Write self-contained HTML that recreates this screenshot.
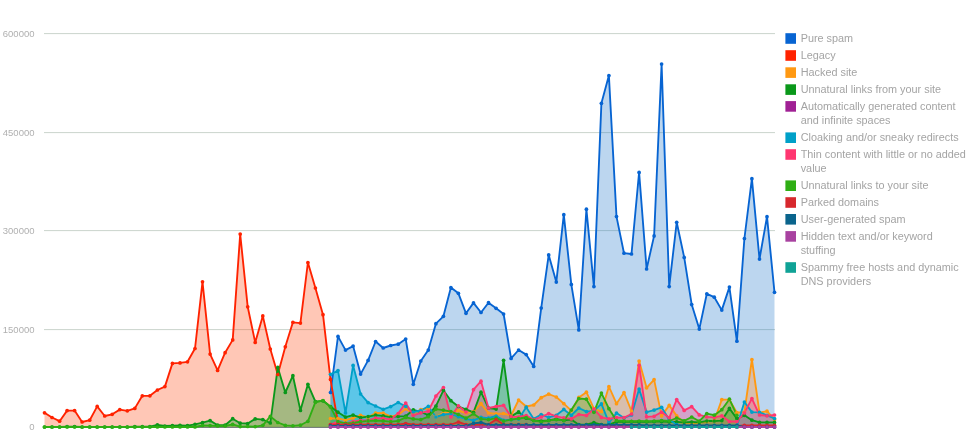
<!DOCTYPE html>
<html lang="en">
<head>
<meta charset="utf-8">
<title>Webspam manual actions chart</title>
<style>
html,body{margin:0;padding:0;background:#fff;}
body{width:978px;height:445px;overflow:hidden;font-family:"Liberation Sans",sans-serif;}
svg{display:block;}
.axis text{font-family:"Liberation Sans",sans-serif;font-size:9.5px;fill:#b0b0b0;}
.legend text{font-family:"Liberation Sans",sans-serif;font-size:10.85px;fill:#a4a4a4;}
</style>
</head>
<body>
<svg role="img" aria-label="Manual actions by type over time" width="978" height="445" viewBox="0 0 978 445">
<rect width="978" height="445" fill="#ffffff"/>
<g class="grid"><rect x="44" y="33.1" width="731" height="1" fill="#cad4cd"/><rect x="44" y="132.1" width="731" height="1" fill="#cad4cd"/><rect x="44" y="230.1" width="731" height="1" fill="#cad4cd"/><rect x="44" y="329.1" width="731" height="1" fill="#cad4cd"/></g>
<g class="axis"><text x="34.5" y="36.9" text-anchor="end">600000</text><text x="34.5" y="135.9" text-anchor="end">450000</text><text x="34.5" y="233.9" text-anchor="end">300000</text><text x="34.5" y="332.9" text-anchor="end">150000</text><text x="34.5" y="430.4" text-anchor="end">0</text></g>
<g class="series">
<g class="areas"><path d="M330.5,427 L330.5,392.5 L338,336.4 L345.5,350.1 L353.1,346.1 L360.6,374.1 L368.1,360.4 L375.6,341.5 L383.2,348 L390.7,345.5 L398.2,344.2 L405.7,339 L413.3,384.3 L420.8,361 L428.3,350.1 L435.9,323.7 L443.4,316.3 L450.9,287.6 L458.4,293.3 L466,313.3 L473.5,302.9 L481,312.5 L488.5,302.7 L496.1,308.3 L503.6,314 L511.1,358.4 L518.6,350 L526.2,354.6 L533.7,366.5 L541.2,308.1 L548.7,254.9 L556.3,282.1 L563.8,214.7 L571.3,284.4 L578.8,329.9 L586.4,209.2 L593.9,286.6 L601.4,103.3 L608.9,75.6 L616.5,216.6 L624,253.2 L631.5,254 L639.1,172.4 L646.6,269 L654.1,235.9 L661.6,64 L669.2,286.6 L676.7,222.3 L684.2,257.4 L691.7,304.6 L699.3,329.1 L706.8,293.8 L714.3,297.2 L721.8,310.1 L729.4,287.1 L736.9,341.2 L744.4,238.5 L751.9,178.7 L759.5,259.1 L767,216.7 L774.5,292.3 L774.5,427Z" fill="#2076ca" fill-opacity="0.3"/>
<path d="M44.5,427 L44.5,412.8 L52,417.5 L59.6,421.2 L67.1,410.6 L74.6,410.6 L82.1,422 L89.7,420.2 L97.2,406.4 L104.7,416 L112.2,414.3 L119.8,409.6 L127.3,410.8 L134.8,408.4 L142.3,395.8 L149.9,395.8 L157.4,390 L164.9,386.6 L172.4,363.4 L180,362.9 L187.5,361.8 L195,348.5 L202.5,281.8 L210.1,354.1 L217.6,370.4 L225.1,352.7 L232.7,339.9 L240.2,234.1 L247.7,306.8 L255.2,342.4 L262.8,315.9 L270.3,349 L277.8,374.5 L285.3,346.8 L292.9,322.3 L300.4,323.1 L307.9,262.5 L315.4,288 L323,314.7 L330.5,379.4 L338,423 L338,427Z" fill="#ff440c" fill-opacity="0.3"/>
<path d="M330.5,427 L330.5,418.5 L338,418.5 L345.5,420.2 L353.1,418 L360.6,415.3 L368.1,417.4 L375.6,413 L383.2,413.1 L390.7,416.7 L398.2,415 L405.7,408.8 L413.3,414 L420.8,409.5 L428.3,408.5 L435.9,416.8 L443.4,413 L450.9,412.3 L458.4,410.5 L466,413 L473.5,411.6 L481,403.6 L488.5,413 L496.1,413.8 L503.6,413.5 L511.1,415.5 L518.6,400 L526.2,406.5 L533.7,405 L541.2,397.7 L548.7,394.1 L556.3,397 L563.8,403.6 L571.3,410.6 L578.8,397.4 L586.4,392.2 L593.9,408.7 L601.4,411.6 L608.9,386.5 L616.5,403.7 L624,392.5 L631.5,411.1 L639.1,361.1 L646.6,387.8 L654.1,379.6 L661.6,415.9 L669.2,405.4 L676.7,415.9 L684.2,422.6 L691.7,423.3 L699.3,422.6 L706.8,421.5 L714.3,420.7 L721.8,399.6 L729.4,399.6 L736.9,412.7 L744.4,412 L751.9,359.5 L759.5,412.7 L767,411.2 L774.5,419.6 L774.5,427Z" fill="#ff9a4c" fill-opacity="0.4"/>
<path d="M44.5,427 L44.5,427 L52,427 L59.6,427 L67.1,426.6 L74.6,426.6 L82.1,427 L89.7,427 L97.2,427 L104.7,427 L112.2,427 L119.8,427 L127.3,427 L134.8,426.7 L142.3,426.7 L149.9,426.7 L157.4,424.8 L164.9,426 L172.4,425.7 L180,425.3 L187.5,425.6 L195,424.3 L202.5,422.7 L210.1,420.6 L217.6,425.2 L225.1,425.2 L232.7,418.7 L240.2,423.2 L247.7,423.5 L255.2,418.9 L262.8,419.6 L270.3,423 L277.8,367.4 L285.3,392.5 L292.9,375.7 L300.4,410.4 L307.9,384.3 L315.4,401.7 L323,400.8 L330.5,406.5 L338,412.2 L345.5,417.1 L353.1,415.1 L360.6,417.6 L368.1,416.6 L375.6,415.1 L383.2,415.9 L390.7,417.1 L398.2,416.4 L405.7,416.2 L413.3,409.8 L420.8,412 L428.3,415.2 L435.9,406.2 L443.4,390.4 L450.9,400.7 L458.4,406.5 L466,409.4 L473.5,412.3 L481,392.2 L488.5,408 L496.1,409.1 L503.6,360.3 L511.1,416.4 L518.6,411.9 L526.2,418.2 L533.7,420.4 L541.2,421 L548.7,420.4 L556.3,419 L563.8,420.4 L571.3,419.6 L578.8,424.7 L586.4,424.7 L593.9,422.6 L601.4,424.7 L608.9,424.7 L616.5,421.8 L624,421.8 L631.5,421.5 L639.1,421.8 L646.6,421.8 L654.1,421.5 L661.6,421.5 L669.2,421.8 L676.7,421.8 L684.2,422.3 L691.7,422 L699.3,422.3 L706.8,421 L714.3,421 L721.8,420.6 L729.4,408.4 L736.9,418.6 L744.4,415.3 L751.9,420.2 L759.5,422.3 L767,422.4 L774.5,422.4 L774.5,427Z" fill="#0aa028" fill-opacity="0.37"/>
<path d="M330.5,427 L330.5,427 L338,427 L345.5,427 L353.1,427 L360.6,427 L368.1,427 L375.6,427 L383.2,427 L390.7,427 L398.2,427 L405.7,427 L413.3,427 L420.8,427 L428.3,427 L435.9,427 L443.4,427 L450.9,427 L458.4,427 L466,427 L473.5,427 L481,427 L488.5,427 L496.1,427 L503.6,427 L511.1,427 L518.6,427 L526.2,427 L533.7,427 L541.2,427 L548.7,427 L556.3,427 L563.8,427 L571.3,427 L578.8,427 L586.4,427 L593.9,427 L601.4,427 L608.9,427 L616.5,427 L624,427 L631.5,427 L639.1,427 L646.6,427 L654.1,427 L661.6,427 L669.2,427 L676.7,427 L684.2,427 L691.7,427 L699.3,427 L706.8,427 L714.3,427 L721.8,427 L729.4,427 L736.9,427 L744.4,427 L751.9,427 L759.5,427 L767,427 L774.5,427 L774.5,427Z" fill="#a02094" fill-opacity="0.27"/>
<path d="M330.5,427 L330.5,374.3 L338,370.6 L345.5,412.9 L353.1,365.4 L360.6,394 L368.1,402.6 L375.6,406 L383.2,409.3 L390.7,406.6 L398.2,402.5 L405.7,406.3 L413.3,412 L420.8,410.5 L428.3,406.4 L435.9,417 L443.4,414.5 L450.9,413.8 L458.4,416.7 L466,418.9 L473.5,420.4 L481,417.4 L488.5,418.2 L496.1,416 L503.6,420.4 L511.1,419.6 L518.6,418.9 L526.2,407.2 L533.7,418.9 L541.2,414.5 L548.7,417.4 L556.3,415.3 L563.8,409.4 L571.3,415.3 L578.8,408 L586.4,411.6 L593.9,410.9 L601.4,403.9 L608.9,422.6 L616.5,413.1 L624,418 L631.5,415 L639.1,389.1 L646.6,412.1 L654.1,410.1 L661.6,407.3 L669.2,419.7 L676.7,424.5 L684.2,426.3 L691.7,426.5 L699.3,426.5 L706.8,426.5 L714.3,426.5 L721.8,426.5 L729.4,426.5 L736.9,426 L744.4,402 L751.9,412.1 L759.5,412.3 L767,415.3 L774.5,418.5 L774.5,427Z" fill="#0cb9e2" fill-opacity="0.3"/>
<path d="M330.5,427 L330.5,374.3 L338,370.6 L345.5,412.9 L353.1,365.4 L360.6,394 L368.1,402.6 L375.6,406 L383.2,409.3 L390.7,406.6 L398.2,402.5 L405.7,406.3 L413.3,412 L420.8,410.5 L428.3,406.4 L435.9,417 L435.9,427Z" fill="#0cb9e2" fill-opacity="0.35"/>
<path d="M330.5,427 L330.5,424.6 L338,421.7 L345.5,423.4 L353.1,421.7 L360.6,420.5 L368.1,420.5 L375.6,418.1 L383.2,418.4 L390.7,419.3 L398.2,413.5 L405.7,403.1 L413.3,415.3 L420.8,412.8 L428.3,411.2 L435.9,396 L443.4,387.5 L450.9,417 L458.4,405.8 L466,412 L473.5,389.7 L481,381.2 L488.5,408 L496.1,406.5 L503.6,405.3 L511.1,416.7 L518.6,417 L526.2,415.5 L533.7,419.6 L541.2,417 L548.7,413.5 L556.3,416.4 L563.8,417.9 L571.3,418.9 L578.8,414.5 L586.4,415.5 L593.9,409.1 L601.4,417.4 L608.9,418.9 L616.5,417.6 L624,417.6 L631.5,414 L639.1,365.3 L646.6,416.8 L654.1,416.3 L661.6,412.1 L669.2,417.8 L676.7,399.6 L684.2,410.4 L691.7,406.7 L699.3,414.9 L706.8,416.8 L714.3,417.3 L721.8,415.8 L729.4,421.5 L736.9,421.5 L744.4,412.9 L751.9,398.6 L759.5,415 L767,415.8 L774.5,415 L774.5,427Z" fill="#ff4688" fill-opacity="0.35"/>
<path d="M44.5,427 L44.5,427 L52,427 L59.6,427 L67.1,427 L74.6,427 L82.1,427 L89.7,427 L97.2,427 L104.7,427 L112.2,427 L119.8,427 L127.3,427 L134.8,427 L142.3,427 L149.9,427 L157.4,427 L164.9,427 L172.4,427 L180,427 L187.5,427 L195,427 L202.5,425.5 L210.1,425.6 L217.6,426 L225.1,426 L232.7,424.4 L240.2,426.6 L247.7,426.5 L255.2,426.6 L262.8,425.3 L270.3,416.4 L277.8,422.5 L285.3,425.4 L292.9,425.8 L300.4,425.2 L307.9,421.3 L315.4,402.2 L323,400.5 L330.5,406.9 L338,421.7 L345.5,423.4 L353.1,423 L360.6,421.7 L368.1,420.9 L375.6,420.5 L383.2,420.9 L390.7,421.7 L398.2,420.9 L405.7,417.4 L413.3,418.9 L420.8,419.6 L428.3,416.7 L435.9,409.1 L443.4,410.1 L450.9,411.6 L458.4,414.5 L466,418.2 L473.5,413.8 L481,418.9 L488.5,419.6 L496.1,418.2 L503.6,421.1 L511.1,419.6 L518.6,418.5 L526.2,417.5 L533.7,420.4 L541.2,421.8 L548.7,420.4 L556.3,419.6 L563.8,420.4 L571.3,410.1 L578.8,398.5 L586.4,399.2 L593.9,412.3 L601.4,393.1 L608.9,408.7 L616.5,420.5 L624,421 L631.5,421.3 L639.1,421 L646.6,421.2 L654.1,421 L661.6,420.5 L669.2,421 L676.7,418 L684.2,420.8 L691.7,417 L699.3,421.2 L706.8,413.6 L714.3,415.2 L721.8,409.7 L729.4,399.2 L736.9,415.3 L736.9,427Z" fill="#5aaa0a" fill-opacity="0.33"/>
<path d="M330.5,427 L330.5,424.6 L338,424.6 L345.5,424.6 L353.1,424.6 L360.6,424.6 L368.1,424.6 L375.6,424.6 L383.2,424.6 L390.7,424.6 L398.2,424.6 L405.7,423.5 L413.3,424.6 L420.8,424.6 L428.3,424.6 L435.9,424.6 L443.4,424.6 L450.9,424.6 L458.4,422 L466,424.6 L473.5,424.6 L481,424.6 L488.5,424.6 L496.1,419.5 L503.6,424.6 L511.1,424.6 L518.6,424.6 L526.2,424.6 L533.7,426 L541.2,426 L548.7,426 L556.3,426 L563.8,426 L571.3,426 L578.8,426 L586.4,426 L593.9,426 L601.4,426 L608.9,426 L616.5,426 L624,426 L631.5,426 L639.1,426 L646.6,426 L654.1,426 L661.6,426 L669.2,426 L676.7,426 L684.2,426 L691.7,426 L699.3,426 L706.8,426 L714.3,426 L721.8,426 L729.4,426 L736.9,426 L744.4,425.3 L751.9,425.3 L759.5,425.3 L767,425.3 L774.5,425.3 L774.5,427Z" fill="#d7282d" fill-opacity="0.27"/>
<path d="M330.5,427 L330.5,425.8 L338,425.8 L345.5,425.8 L353.1,425.8 L360.6,425.8 L368.1,425.8 L375.6,425.8 L383.2,425.8 L390.7,425.8 L398.2,425.8 L405.7,425.8 L413.3,425.8 L420.8,425.8 L428.3,425.8 L435.9,425.8 L443.4,425.8 L450.9,425.8 L458.4,425.8 L466,425.8 L473.5,423.3 L481,422.5 L488.5,424.8 L496.1,424.8 L503.6,424.8 L511.1,424.8 L518.6,424.8 L526.2,424.8 L533.7,424.8 L541.2,424.8 L548.7,424.8 L556.3,424.8 L563.8,424.8 L571.3,424.8 L578.8,424.8 L586.4,424.8 L593.9,424.8 L601.4,424.8 L608.9,424.8 L616.5,424.8 L624,424.8 L631.5,424.8 L639.1,424.8 L646.6,425.3 L654.1,425.3 L661.6,425.3 L669.2,425.3 L676.7,425.3 L684.2,425.3 L691.7,425.3 L699.3,425.3 L706.8,425.3 L714.3,425.3 L721.8,425.3 L729.4,425.3 L736.9,425.3 L744.4,427 L751.9,427 L759.5,427 L767,427 L774.5,427 L774.5,427Z" fill="#0a648c" fill-opacity="0.27"/>
<path d="M330.5,427 L330.5,427 L338,427 L345.5,427 L353.1,427 L360.6,427 L368.1,427 L375.6,427 L383.2,427 L390.7,427 L398.2,427 L405.7,427 L413.3,427 L420.8,427 L428.3,427 L435.9,427 L443.4,427 L450.9,427 L458.4,427 L466,427 L473.5,427 L481,427 L488.5,427 L496.1,427 L503.6,427 L511.1,427 L518.6,427 L526.2,427 L533.7,427 L541.2,427 L548.7,427 L556.3,427 L563.8,427 L571.3,427 L578.8,427 L586.4,427 L593.9,427 L601.4,427 L608.9,427 L616.5,427 L624,427 L631.5,427 L639.1,427 L646.6,427 L654.1,427 L661.6,427 L669.2,427 L676.7,427 L684.2,427 L691.7,427 L699.3,427 L706.8,427 L714.3,427 L721.8,427 L729.4,427 L736.9,427 L744.4,427 L751.9,427 L759.5,427 L767,427 L774.5,427 L774.5,427Z" fill="#a842a0" fill-opacity="0.27"/>
<path d="M631.5,427 L631.5,427 L639.1,427 L646.6,427 L654.1,427 L661.6,427 L669.2,427 L676.7,427 L684.2,427 L691.7,427 L699.3,427 L706.8,427 L714.3,427 L721.8,427 L729.4,427 L736.9,427 L736.9,427Z" fill="#10a296" fill-opacity="0.27"/></g>
<rect class="baseline" x="44" y="426.9" width="731" height="0.9" fill="#56645e"/>
<g class="lines"><polyline points="330.5,392.5 338,336.4 345.5,350.1 353.1,346.1 360.6,374.1 368.1,360.4 375.6,341.5 383.2,348 390.7,345.5 398.2,344.2 405.7,339 413.3,384.3 420.8,361 428.3,350.1 435.9,323.7 443.4,316.3 450.9,287.6 458.4,293.3 466,313.3 473.5,302.9 481,312.5 488.5,302.7 496.1,308.3 503.6,314 511.1,358.4 518.6,350 526.2,354.6 533.7,366.5 541.2,308.1 548.7,254.9 556.3,282.1 563.8,214.7 571.3,284.4 578.8,329.9 586.4,209.2 593.9,286.6 601.4,103.3 608.9,75.6 616.5,216.6 624,253.2 631.5,254 639.1,172.4 646.6,269 654.1,235.9 661.6,64 669.2,286.6 676.7,222.3 684.2,257.4 691.7,304.6 699.3,329.1 706.8,293.8 714.3,297.2 721.8,310.1 729.4,287.1 736.9,341.2 744.4,238.5 751.9,178.7 759.5,259.1 767,216.7 774.5,292.3" fill="none" stroke="#0764d2" stroke-width="1.85" stroke-linejoin="round"/>
<polyline points="44.5,412.8 52,417.5 59.6,421.2 67.1,410.6 74.6,410.6 82.1,422 89.7,420.2 97.2,406.4 104.7,416 112.2,414.3 119.8,409.6 127.3,410.8 134.8,408.4 142.3,395.8 149.9,395.8 157.4,390 164.9,386.6 172.4,363.4 180,362.9 187.5,361.8 195,348.5 202.5,281.8 210.1,354.1 217.6,370.4 225.1,352.7 232.7,339.9 240.2,234.1 247.7,306.8 255.2,342.4 262.8,315.9 270.3,349 277.8,374.5 285.3,346.8 292.9,322.3 300.4,323.1 307.9,262.5 315.4,288 323,314.7 330.5,379.4 338,423" fill="none" stroke="#ff2200" stroke-width="1.85" stroke-linejoin="round"/>
<polyline points="330.5,418.5 338,418.5 345.5,420.2 353.1,418 360.6,415.3 368.1,417.4 375.6,413 383.2,413.1 390.7,416.7 398.2,415 405.7,408.8 413.3,414 420.8,409.5 428.3,408.5 435.9,416.8 443.4,413 450.9,412.3 458.4,410.5 466,413 473.5,411.6 481,403.6 488.5,413 496.1,413.8 503.6,413.5 511.1,415.5 518.6,400 526.2,406.5 533.7,405 541.2,397.7 548.7,394.1 556.3,397 563.8,403.6 571.3,410.6 578.8,397.4 586.4,392.2 593.9,408.7 601.4,411.6 608.9,386.5 616.5,403.7 624,392.5 631.5,411.1 639.1,361.1 646.6,387.8 654.1,379.6 661.6,415.9 669.2,405.4 676.7,415.9 684.2,422.6 691.7,423.3 699.3,422.6 706.8,421.5 714.3,420.7 721.8,399.6 729.4,399.6 736.9,412.7 744.4,412 751.9,359.5 759.5,412.7 767,411.2 774.5,419.6" fill="none" stroke="#ff9912" stroke-width="1.85" stroke-linejoin="round"/>
<polyline points="44.5,427 52,427 59.6,427 67.1,426.6 74.6,426.6 82.1,427 89.7,427 97.2,427 104.7,427 112.2,427 119.8,427 127.3,427 134.8,426.7 142.3,426.7 149.9,426.7 157.4,424.8 164.9,426 172.4,425.7 180,425.3 187.5,425.6 195,424.3 202.5,422.7 210.1,420.6 217.6,425.2 225.1,425.2 232.7,418.7 240.2,423.2 247.7,423.5 255.2,418.9 262.8,419.6 270.3,423 277.8,367.4 285.3,392.5 292.9,375.7 300.4,410.4 307.9,384.3 315.4,401.7 323,400.8 330.5,406.5 338,412.2 345.5,417.1 353.1,415.1 360.6,417.6 368.1,416.6 375.6,415.1 383.2,415.9 390.7,417.1 398.2,416.4 405.7,416.2 413.3,409.8 420.8,412 428.3,415.2 435.9,406.2 443.4,390.4 450.9,400.7 458.4,406.5 466,409.4 473.5,412.3 481,392.2 488.5,408 496.1,409.1 503.6,360.3 511.1,416.4 518.6,411.9 526.2,418.2 533.7,420.4 541.2,421 548.7,420.4 556.3,419 563.8,420.4 571.3,419.6 578.8,424.7 586.4,424.7 593.9,422.6 601.4,424.7 608.9,424.7 616.5,421.8 624,421.8 631.5,421.5 639.1,421.8 646.6,421.8 654.1,421.5 661.6,421.5 669.2,421.8 676.7,421.8 684.2,422.3 691.7,422 699.3,422.3 706.8,421 714.3,421 721.8,420.6 729.4,408.4 736.9,418.6 744.4,415.3 751.9,420.2 759.5,422.3 767,422.4 774.5,422.4" fill="none" stroke="#0a981a" stroke-width="1.85" stroke-linejoin="round"/>
<polyline points="330.5,427 338,427 345.5,427 353.1,427 360.6,427 368.1,427 375.6,427 383.2,427 390.7,427 398.2,427 405.7,427 413.3,427 420.8,427 428.3,427 435.9,427 443.4,427 450.9,427 458.4,427 466,427 473.5,427 481,427 488.5,427 496.1,427 503.6,427 511.1,427 518.6,427 526.2,427 533.7,427 541.2,427 548.7,427 556.3,427 563.8,427 571.3,427 578.8,427 586.4,427 593.9,427 601.4,427 608.9,427 616.5,427 624,427 631.5,427 639.1,427 646.6,427 654.1,427 661.6,427 669.2,427 676.7,427 684.2,427 691.7,427 699.3,427 706.8,427 714.3,427 721.8,427 729.4,427 736.9,427 744.4,427 751.9,427 759.5,427 767,427 774.5,427" fill="none" stroke="#a02094" stroke-width="1.85" stroke-linejoin="round"/>
<polyline points="330.5,374.3 338,370.6 345.5,412.9 353.1,365.4 360.6,394 368.1,402.6 375.6,406 383.2,409.3 390.7,406.6 398.2,402.5 405.7,406.3 413.3,412 420.8,410.5 428.3,406.4 435.9,417 443.4,414.5 450.9,413.8 458.4,416.7 466,418.9 473.5,420.4 481,417.4 488.5,418.2 496.1,416 503.6,420.4 511.1,419.6 518.6,418.9 526.2,407.2 533.7,418.9 541.2,414.5 548.7,417.4 556.3,415.3 563.8,409.4 571.3,415.3 578.8,408 586.4,411.6 593.9,410.9 601.4,403.9 608.9,422.6 616.5,413.1 624,418 631.5,415 639.1,389.1 646.6,412.1 654.1,410.1 661.6,407.3 669.2,419.7 676.7,424.5 684.2,426.3 691.7,426.5 699.3,426.5 706.8,426.5 714.3,426.5 721.8,426.5 729.4,426.5 736.9,426 744.4,402 751.9,412.1 759.5,412.3 767,415.3 774.5,418.5" fill="none" stroke="#00a0c8" stroke-width="1.85" stroke-linejoin="round"/>
<polyline points="330.5,424.6 338,421.7 345.5,423.4 353.1,421.7 360.6,420.5 368.1,420.5 375.6,418.1 383.2,418.4 390.7,419.3 398.2,413.5 405.7,403.1 413.3,415.3 420.8,412.8 428.3,411.2 435.9,396 443.4,387.5 450.9,417 458.4,405.8 466,412 473.5,389.7 481,381.2 488.5,408 496.1,406.5 503.6,405.3 511.1,416.7 518.6,417 526.2,415.5 533.7,419.6 541.2,417 548.7,413.5 556.3,416.4 563.8,417.9 571.3,418.9 578.8,414.5 586.4,415.5 593.9,409.1 601.4,417.4 608.9,418.9 616.5,417.6 624,417.6 631.5,414 639.1,365.3 646.6,416.8 654.1,416.3 661.6,412.1 669.2,417.8 676.7,399.6 684.2,410.4 691.7,406.7 699.3,414.9 706.8,416.8 714.3,417.3 721.8,415.8 729.4,421.5 736.9,421.5 744.4,412.9 751.9,398.6 759.5,415 767,415.8 774.5,415" fill="none" stroke="#ff3670" stroke-width="1.85" stroke-linejoin="round"/>
<polyline points="44.5,427 52,427 59.6,427 67.1,427 74.6,427 82.1,427 89.7,427 97.2,427 104.7,427 112.2,427 119.8,427 127.3,427 134.8,427 142.3,427 149.9,427 157.4,427 164.9,427 172.4,427 180,427 187.5,427 195,427 202.5,425.5 210.1,425.6 217.6,426 225.1,426 232.7,424.4 240.2,426.6 247.7,426.5 255.2,426.6 262.8,425.3 270.3,416.4 277.8,422.5 285.3,425.4 292.9,425.8 300.4,425.2 307.9,421.3 315.4,402.2 323,400.5 330.5,406.9 338,421.7 345.5,423.4 353.1,423 360.6,421.7 368.1,420.9 375.6,420.5 383.2,420.9 390.7,421.7 398.2,420.9 405.7,417.4 413.3,418.9 420.8,419.6 428.3,416.7 435.9,409.1 443.4,410.1 450.9,411.6 458.4,414.5 466,418.2 473.5,413.8 481,418.9 488.5,419.6 496.1,418.2 503.6,421.1 511.1,419.6 518.6,418.5 526.2,417.5 533.7,420.4 541.2,421.8 548.7,420.4 556.3,419.6 563.8,420.4 571.3,410.1 578.8,398.5 586.4,399.2 593.9,412.3 601.4,393.1 608.9,408.7 616.5,420.5 624,421 631.5,421.3 639.1,421 646.6,421.2 654.1,421 661.6,420.5 669.2,421 676.7,418 684.2,420.8 691.7,417 699.3,421.2 706.8,413.6 714.3,415.2 721.8,409.7 729.4,399.2 736.9,415.3" fill="none" stroke="#2fae14" stroke-width="1.85" stroke-linejoin="round"/>
<polyline points="330.5,424.6 338,424.6 345.5,424.6 353.1,424.6 360.6,424.6 368.1,424.6 375.6,424.6 383.2,424.6 390.7,424.6 398.2,424.6 405.7,423.5 413.3,424.6 420.8,424.6 428.3,424.6 435.9,424.6 443.4,424.6 450.9,424.6 458.4,422 466,424.6 473.5,424.6 481,424.6 488.5,424.6 496.1,419.5 503.6,424.6 511.1,424.6 518.6,424.6 526.2,424.6 533.7,426 541.2,426 548.7,426 556.3,426 563.8,426 571.3,426 578.8,426 586.4,426 593.9,426 601.4,426 608.9,426 616.5,426 624,426 631.5,426 639.1,426 646.6,426 654.1,426 661.6,426 669.2,426 676.7,426 684.2,426 691.7,426 699.3,426 706.8,426 714.3,426 721.8,426 729.4,426 736.9,426 744.4,425.3 751.9,425.3 759.5,425.3 767,425.3 774.5,425.3" fill="none" stroke="#d7282d" stroke-width="1.85" stroke-linejoin="round"/>
<polyline points="330.5,425.8 338,425.8 345.5,425.8 353.1,425.8 360.6,425.8 368.1,425.8 375.6,425.8 383.2,425.8 390.7,425.8 398.2,425.8 405.7,425.8 413.3,425.8 420.8,425.8 428.3,425.8 435.9,425.8 443.4,425.8 450.9,425.8 458.4,425.8 466,425.8 473.5,423.3 481,422.5 488.5,424.8 496.1,424.8 503.6,424.8 511.1,424.8 518.6,424.8 526.2,424.8 533.7,424.8 541.2,424.8 548.7,424.8 556.3,424.8 563.8,424.8 571.3,424.8 578.8,424.8 586.4,424.8 593.9,424.8 601.4,424.8 608.9,424.8 616.5,424.8 624,424.8 631.5,424.8 639.1,424.8 646.6,425.3 654.1,425.3 661.6,425.3 669.2,425.3 676.7,425.3 684.2,425.3 691.7,425.3 699.3,425.3 706.8,425.3 714.3,425.3 721.8,425.3 729.4,425.3 736.9,425.3 744.4,427 751.9,427 759.5,427 767,427 774.5,427" fill="none" stroke="#0a648c" stroke-width="1.85" stroke-linejoin="round"/>
<polyline points="330.5,427 338,427 345.5,427 353.1,427 360.6,427 368.1,427 375.6,427 383.2,427 390.7,427 398.2,427 405.7,427 413.3,427 420.8,427 428.3,427 435.9,427 443.4,427 450.9,427 458.4,427 466,427 473.5,427 481,427 488.5,427 496.1,427 503.6,427 511.1,427 518.6,427 526.2,427 533.7,427 541.2,427 548.7,427 556.3,427 563.8,427 571.3,427 578.8,427 586.4,427 593.9,427 601.4,427 608.9,427 616.5,427 624,427 631.5,427 639.1,427 646.6,427 654.1,427 661.6,427 669.2,427 676.7,427 684.2,427 691.7,427 699.3,427 706.8,427 714.3,427 721.8,427 729.4,427 736.9,427 744.4,427 751.9,427 759.5,427 767,427 774.5,427" fill="none" stroke="#a842a0" stroke-width="1.85" stroke-linejoin="round"/>
<polyline points="631.5,427 639.1,427 646.6,427 654.1,427 661.6,427 669.2,427 676.7,427 684.2,427 691.7,427 699.3,427 706.8,427 714.3,427 721.8,427 729.4,427 736.9,427" fill="none" stroke="#10a296" stroke-width="1.85" stroke-linejoin="round"/></g>
<g class="points"><g fill="#0764d2"><circle cx="330.5" cy="392.5" r="1.85"/><circle cx="338" cy="336.4" r="1.85"/><circle cx="345.5" cy="350.1" r="1.85"/><circle cx="353.1" cy="346.1" r="1.85"/><circle cx="360.6" cy="374.1" r="1.85"/><circle cx="368.1" cy="360.4" r="1.85"/><circle cx="375.6" cy="341.5" r="1.85"/><circle cx="383.2" cy="348" r="1.85"/><circle cx="390.7" cy="345.5" r="1.85"/><circle cx="398.2" cy="344.2" r="1.85"/><circle cx="405.7" cy="339" r="1.85"/><circle cx="413.3" cy="384.3" r="1.85"/><circle cx="420.8" cy="361" r="1.85"/><circle cx="428.3" cy="350.1" r="1.85"/><circle cx="435.9" cy="323.7" r="1.85"/><circle cx="443.4" cy="316.3" r="1.85"/><circle cx="450.9" cy="287.6" r="1.85"/><circle cx="458.4" cy="293.3" r="1.85"/><circle cx="466" cy="313.3" r="1.85"/><circle cx="473.5" cy="302.9" r="1.85"/><circle cx="481" cy="312.5" r="1.85"/><circle cx="488.5" cy="302.7" r="1.85"/><circle cx="496.1" cy="308.3" r="1.85"/><circle cx="503.6" cy="314" r="1.85"/><circle cx="511.1" cy="358.4" r="1.85"/><circle cx="518.6" cy="350" r="1.85"/><circle cx="526.2" cy="354.6" r="1.85"/><circle cx="533.7" cy="366.5" r="1.85"/><circle cx="541.2" cy="308.1" r="1.85"/><circle cx="548.7" cy="254.9" r="1.85"/><circle cx="556.3" cy="282.1" r="1.85"/><circle cx="563.8" cy="214.7" r="1.85"/><circle cx="571.3" cy="284.4" r="1.85"/><circle cx="578.8" cy="329.9" r="1.85"/><circle cx="586.4" cy="209.2" r="1.85"/><circle cx="593.9" cy="286.6" r="1.85"/><circle cx="601.4" cy="103.3" r="1.85"/><circle cx="608.9" cy="75.6" r="1.85"/><circle cx="616.5" cy="216.6" r="1.85"/><circle cx="624" cy="253.2" r="1.85"/><circle cx="631.5" cy="254" r="1.85"/><circle cx="639.1" cy="172.4" r="1.85"/><circle cx="646.6" cy="269" r="1.85"/><circle cx="654.1" cy="235.9" r="1.85"/><circle cx="661.6" cy="64" r="1.85"/><circle cx="669.2" cy="286.6" r="1.85"/><circle cx="676.7" cy="222.3" r="1.85"/><circle cx="684.2" cy="257.4" r="1.85"/><circle cx="691.7" cy="304.6" r="1.85"/><circle cx="699.3" cy="329.1" r="1.85"/><circle cx="706.8" cy="293.8" r="1.85"/><circle cx="714.3" cy="297.2" r="1.85"/><circle cx="721.8" cy="310.1" r="1.85"/><circle cx="729.4" cy="287.1" r="1.85"/><circle cx="736.9" cy="341.2" r="1.85"/><circle cx="744.4" cy="238.5" r="1.85"/><circle cx="751.9" cy="178.7" r="1.85"/><circle cx="759.5" cy="259.1" r="1.85"/><circle cx="767" cy="216.7" r="1.85"/><circle cx="774.5" cy="292.3" r="1.85"/></g>
<g fill="#ff2200"><circle cx="44.5" cy="412.8" r="1.85"/><circle cx="52" cy="417.5" r="1.85"/><circle cx="59.6" cy="421.2" r="1.85"/><circle cx="67.1" cy="410.6" r="1.85"/><circle cx="74.6" cy="410.6" r="1.85"/><circle cx="82.1" cy="422" r="1.85"/><circle cx="89.7" cy="420.2" r="1.85"/><circle cx="97.2" cy="406.4" r="1.85"/><circle cx="104.7" cy="416" r="1.85"/><circle cx="112.2" cy="414.3" r="1.85"/><circle cx="119.8" cy="409.6" r="1.85"/><circle cx="127.3" cy="410.8" r="1.85"/><circle cx="134.8" cy="408.4" r="1.85"/><circle cx="142.3" cy="395.8" r="1.85"/><circle cx="149.9" cy="395.8" r="1.85"/><circle cx="157.4" cy="390" r="1.85"/><circle cx="164.9" cy="386.6" r="1.85"/><circle cx="172.4" cy="363.4" r="1.85"/><circle cx="180" cy="362.9" r="1.85"/><circle cx="187.5" cy="361.8" r="1.85"/><circle cx="195" cy="348.5" r="1.85"/><circle cx="202.5" cy="281.8" r="1.85"/><circle cx="210.1" cy="354.1" r="1.85"/><circle cx="217.6" cy="370.4" r="1.85"/><circle cx="225.1" cy="352.7" r="1.85"/><circle cx="232.7" cy="339.9" r="1.85"/><circle cx="240.2" cy="234.1" r="1.85"/><circle cx="247.7" cy="306.8" r="1.85"/><circle cx="255.2" cy="342.4" r="1.85"/><circle cx="262.8" cy="315.9" r="1.85"/><circle cx="270.3" cy="349" r="1.85"/><circle cx="277.8" cy="374.5" r="1.85"/><circle cx="285.3" cy="346.8" r="1.85"/><circle cx="292.9" cy="322.3" r="1.85"/><circle cx="300.4" cy="323.1" r="1.85"/><circle cx="307.9" cy="262.5" r="1.85"/><circle cx="315.4" cy="288" r="1.85"/><circle cx="323" cy="314.7" r="1.85"/><circle cx="330.5" cy="379.4" r="1.85"/><circle cx="338" cy="423" r="1.85"/></g>
<g fill="#ff9912"><circle cx="330.5" cy="418.5" r="1.85"/><circle cx="338" cy="418.5" r="1.85"/><circle cx="345.5" cy="420.2" r="1.85"/><circle cx="353.1" cy="418" r="1.85"/><circle cx="360.6" cy="415.3" r="1.85"/><circle cx="368.1" cy="417.4" r="1.85"/><circle cx="375.6" cy="413" r="1.85"/><circle cx="383.2" cy="413.1" r="1.85"/><circle cx="390.7" cy="416.7" r="1.85"/><circle cx="398.2" cy="415" r="1.85"/><circle cx="405.7" cy="408.8" r="1.85"/><circle cx="413.3" cy="414" r="1.85"/><circle cx="420.8" cy="409.5" r="1.85"/><circle cx="428.3" cy="408.5" r="1.85"/><circle cx="435.9" cy="416.8" r="1.85"/><circle cx="443.4" cy="413" r="1.85"/><circle cx="450.9" cy="412.3" r="1.85"/><circle cx="458.4" cy="410.5" r="1.85"/><circle cx="466" cy="413" r="1.85"/><circle cx="473.5" cy="411.6" r="1.85"/><circle cx="481" cy="403.6" r="1.85"/><circle cx="488.5" cy="413" r="1.85"/><circle cx="496.1" cy="413.8" r="1.85"/><circle cx="503.6" cy="413.5" r="1.85"/><circle cx="511.1" cy="415.5" r="1.85"/><circle cx="518.6" cy="400" r="1.85"/><circle cx="526.2" cy="406.5" r="1.85"/><circle cx="533.7" cy="405" r="1.85"/><circle cx="541.2" cy="397.7" r="1.85"/><circle cx="548.7" cy="394.1" r="1.85"/><circle cx="556.3" cy="397" r="1.85"/><circle cx="563.8" cy="403.6" r="1.85"/><circle cx="571.3" cy="410.6" r="1.85"/><circle cx="578.8" cy="397.4" r="1.85"/><circle cx="586.4" cy="392.2" r="1.85"/><circle cx="593.9" cy="408.7" r="1.85"/><circle cx="601.4" cy="411.6" r="1.85"/><circle cx="608.9" cy="386.5" r="1.85"/><circle cx="616.5" cy="403.7" r="1.85"/><circle cx="624" cy="392.5" r="1.85"/><circle cx="631.5" cy="411.1" r="1.85"/><circle cx="639.1" cy="361.1" r="1.85"/><circle cx="646.6" cy="387.8" r="1.85"/><circle cx="654.1" cy="379.6" r="1.85"/><circle cx="661.6" cy="415.9" r="1.85"/><circle cx="669.2" cy="405.4" r="1.85"/><circle cx="676.7" cy="415.9" r="1.85"/><circle cx="684.2" cy="422.6" r="1.85"/><circle cx="691.7" cy="423.3" r="1.85"/><circle cx="699.3" cy="422.6" r="1.85"/><circle cx="706.8" cy="421.5" r="1.85"/><circle cx="714.3" cy="420.7" r="1.85"/><circle cx="721.8" cy="399.6" r="1.85"/><circle cx="729.4" cy="399.6" r="1.85"/><circle cx="736.9" cy="412.7" r="1.85"/><circle cx="744.4" cy="412" r="1.85"/><circle cx="751.9" cy="359.5" r="1.85"/><circle cx="759.5" cy="412.7" r="1.85"/><circle cx="767" cy="411.2" r="1.85"/><circle cx="774.5" cy="419.6" r="1.85"/></g>
<g fill="#0a981a"><circle cx="44.5" cy="427" r="1.85"/><circle cx="52" cy="427" r="1.85"/><circle cx="59.6" cy="427" r="1.85"/><circle cx="67.1" cy="426.6" r="1.85"/><circle cx="74.6" cy="426.6" r="1.85"/><circle cx="82.1" cy="427" r="1.85"/><circle cx="89.7" cy="427" r="1.85"/><circle cx="97.2" cy="427" r="1.85"/><circle cx="104.7" cy="427" r="1.85"/><circle cx="112.2" cy="427" r="1.85"/><circle cx="119.8" cy="427" r="1.85"/><circle cx="127.3" cy="427" r="1.85"/><circle cx="134.8" cy="426.7" r="1.85"/><circle cx="142.3" cy="426.7" r="1.85"/><circle cx="149.9" cy="426.7" r="1.85"/><circle cx="157.4" cy="424.8" r="1.85"/><circle cx="164.9" cy="426" r="1.85"/><circle cx="172.4" cy="425.7" r="1.85"/><circle cx="180" cy="425.3" r="1.85"/><circle cx="187.5" cy="425.6" r="1.85"/><circle cx="195" cy="424.3" r="1.85"/><circle cx="202.5" cy="422.7" r="1.85"/><circle cx="210.1" cy="420.6" r="1.85"/><circle cx="217.6" cy="425.2" r="1.85"/><circle cx="225.1" cy="425.2" r="1.85"/><circle cx="232.7" cy="418.7" r="1.85"/><circle cx="240.2" cy="423.2" r="1.85"/><circle cx="247.7" cy="423.5" r="1.85"/><circle cx="255.2" cy="418.9" r="1.85"/><circle cx="262.8" cy="419.6" r="1.85"/><circle cx="270.3" cy="423" r="1.85"/><circle cx="277.8" cy="367.4" r="1.85"/><circle cx="285.3" cy="392.5" r="1.85"/><circle cx="292.9" cy="375.7" r="1.85"/><circle cx="300.4" cy="410.4" r="1.85"/><circle cx="307.9" cy="384.3" r="1.85"/><circle cx="315.4" cy="401.7" r="1.85"/><circle cx="323" cy="400.8" r="1.85"/><circle cx="330.5" cy="406.5" r="1.85"/><circle cx="338" cy="412.2" r="1.85"/><circle cx="345.5" cy="417.1" r="1.85"/><circle cx="353.1" cy="415.1" r="1.85"/><circle cx="360.6" cy="417.6" r="1.85"/><circle cx="368.1" cy="416.6" r="1.85"/><circle cx="375.6" cy="415.1" r="1.85"/><circle cx="383.2" cy="415.9" r="1.85"/><circle cx="390.7" cy="417.1" r="1.85"/><circle cx="398.2" cy="416.4" r="1.85"/><circle cx="405.7" cy="416.2" r="1.85"/><circle cx="413.3" cy="409.8" r="1.85"/><circle cx="420.8" cy="412" r="1.85"/><circle cx="428.3" cy="415.2" r="1.85"/><circle cx="435.9" cy="406.2" r="1.85"/><circle cx="443.4" cy="390.4" r="1.85"/><circle cx="450.9" cy="400.7" r="1.85"/><circle cx="458.4" cy="406.5" r="1.85"/><circle cx="466" cy="409.4" r="1.85"/><circle cx="473.5" cy="412.3" r="1.85"/><circle cx="481" cy="392.2" r="1.85"/><circle cx="488.5" cy="408" r="1.85"/><circle cx="496.1" cy="409.1" r="1.85"/><circle cx="503.6" cy="360.3" r="1.85"/><circle cx="511.1" cy="416.4" r="1.85"/><circle cx="518.6" cy="411.9" r="1.85"/><circle cx="526.2" cy="418.2" r="1.85"/><circle cx="533.7" cy="420.4" r="1.85"/><circle cx="541.2" cy="421" r="1.85"/><circle cx="548.7" cy="420.4" r="1.85"/><circle cx="556.3" cy="419" r="1.85"/><circle cx="563.8" cy="420.4" r="1.85"/><circle cx="571.3" cy="419.6" r="1.85"/><circle cx="578.8" cy="424.7" r="1.85"/><circle cx="586.4" cy="424.7" r="1.85"/><circle cx="593.9" cy="422.6" r="1.85"/><circle cx="601.4" cy="424.7" r="1.85"/><circle cx="608.9" cy="424.7" r="1.85"/><circle cx="616.5" cy="421.8" r="1.85"/><circle cx="624" cy="421.8" r="1.85"/><circle cx="631.5" cy="421.5" r="1.85"/><circle cx="639.1" cy="421.8" r="1.85"/><circle cx="646.6" cy="421.8" r="1.85"/><circle cx="654.1" cy="421.5" r="1.85"/><circle cx="661.6" cy="421.5" r="1.85"/><circle cx="669.2" cy="421.8" r="1.85"/><circle cx="676.7" cy="421.8" r="1.85"/><circle cx="684.2" cy="422.3" r="1.85"/><circle cx="691.7" cy="422" r="1.85"/><circle cx="699.3" cy="422.3" r="1.85"/><circle cx="706.8" cy="421" r="1.85"/><circle cx="714.3" cy="421" r="1.85"/><circle cx="721.8" cy="420.6" r="1.85"/><circle cx="729.4" cy="408.4" r="1.85"/><circle cx="736.9" cy="418.6" r="1.85"/><circle cx="744.4" cy="415.3" r="1.85"/><circle cx="751.9" cy="420.2" r="1.85"/><circle cx="759.5" cy="422.3" r="1.85"/><circle cx="767" cy="422.4" r="1.85"/><circle cx="774.5" cy="422.4" r="1.85"/></g>
<g fill="#a02094"><circle cx="330.5" cy="427" r="1.85"/><circle cx="338" cy="427" r="1.85"/><circle cx="345.5" cy="427" r="1.85"/><circle cx="353.1" cy="427" r="1.85"/><circle cx="360.6" cy="427" r="1.85"/><circle cx="368.1" cy="427" r="1.85"/><circle cx="375.6" cy="427" r="1.85"/><circle cx="383.2" cy="427" r="1.85"/><circle cx="390.7" cy="427" r="1.85"/><circle cx="398.2" cy="427" r="1.85"/><circle cx="405.7" cy="427" r="1.85"/><circle cx="413.3" cy="427" r="1.85"/><circle cx="420.8" cy="427" r="1.85"/><circle cx="428.3" cy="427" r="1.85"/><circle cx="435.9" cy="427" r="1.85"/><circle cx="443.4" cy="427" r="1.85"/><circle cx="450.9" cy="427" r="1.85"/><circle cx="458.4" cy="427" r="1.85"/><circle cx="466" cy="427" r="1.85"/><circle cx="473.5" cy="427" r="1.85"/><circle cx="481" cy="427" r="1.85"/><circle cx="488.5" cy="427" r="1.85"/><circle cx="496.1" cy="427" r="1.85"/><circle cx="503.6" cy="427" r="1.85"/><circle cx="511.1" cy="427" r="1.85"/><circle cx="518.6" cy="427" r="1.85"/><circle cx="526.2" cy="427" r="1.85"/><circle cx="533.7" cy="427" r="1.85"/><circle cx="541.2" cy="427" r="1.85"/><circle cx="548.7" cy="427" r="1.85"/><circle cx="556.3" cy="427" r="1.85"/><circle cx="563.8" cy="427" r="1.85"/><circle cx="571.3" cy="427" r="1.85"/><circle cx="578.8" cy="427" r="1.85"/><circle cx="586.4" cy="427" r="1.85"/><circle cx="593.9" cy="427" r="1.85"/><circle cx="601.4" cy="427" r="1.85"/><circle cx="608.9" cy="427" r="1.85"/><circle cx="616.5" cy="427" r="1.85"/><circle cx="624" cy="427" r="1.85"/><circle cx="631.5" cy="427" r="1.85"/><circle cx="639.1" cy="427" r="1.85"/><circle cx="646.6" cy="427" r="1.85"/><circle cx="654.1" cy="427" r="1.85"/><circle cx="661.6" cy="427" r="1.85"/><circle cx="669.2" cy="427" r="1.85"/><circle cx="676.7" cy="427" r="1.85"/><circle cx="684.2" cy="427" r="1.85"/><circle cx="691.7" cy="427" r="1.85"/><circle cx="699.3" cy="427" r="1.85"/><circle cx="706.8" cy="427" r="1.85"/><circle cx="714.3" cy="427" r="1.85"/><circle cx="721.8" cy="427" r="1.85"/><circle cx="729.4" cy="427" r="1.85"/><circle cx="736.9" cy="427" r="1.85"/><circle cx="744.4" cy="427" r="1.85"/><circle cx="751.9" cy="427" r="1.85"/><circle cx="759.5" cy="427" r="1.85"/><circle cx="767" cy="427" r="1.85"/><circle cx="774.5" cy="427" r="1.85"/></g>
<g fill="#00a0c8"><circle cx="330.5" cy="374.3" r="1.85"/><circle cx="338" cy="370.6" r="1.85"/><circle cx="345.5" cy="412.9" r="1.85"/><circle cx="353.1" cy="365.4" r="1.85"/><circle cx="360.6" cy="394" r="1.85"/><circle cx="368.1" cy="402.6" r="1.85"/><circle cx="375.6" cy="406" r="1.85"/><circle cx="383.2" cy="409.3" r="1.85"/><circle cx="390.7" cy="406.6" r="1.85"/><circle cx="398.2" cy="402.5" r="1.85"/><circle cx="405.7" cy="406.3" r="1.85"/><circle cx="413.3" cy="412" r="1.85"/><circle cx="420.8" cy="410.5" r="1.85"/><circle cx="428.3" cy="406.4" r="1.85"/><circle cx="435.9" cy="417" r="1.85"/><circle cx="443.4" cy="414.5" r="1.85"/><circle cx="450.9" cy="413.8" r="1.85"/><circle cx="458.4" cy="416.7" r="1.85"/><circle cx="466" cy="418.9" r="1.85"/><circle cx="473.5" cy="420.4" r="1.85"/><circle cx="481" cy="417.4" r="1.85"/><circle cx="488.5" cy="418.2" r="1.85"/><circle cx="496.1" cy="416" r="1.85"/><circle cx="503.6" cy="420.4" r="1.85"/><circle cx="511.1" cy="419.6" r="1.85"/><circle cx="518.6" cy="418.9" r="1.85"/><circle cx="526.2" cy="407.2" r="1.85"/><circle cx="533.7" cy="418.9" r="1.85"/><circle cx="541.2" cy="414.5" r="1.85"/><circle cx="548.7" cy="417.4" r="1.85"/><circle cx="556.3" cy="415.3" r="1.85"/><circle cx="563.8" cy="409.4" r="1.85"/><circle cx="571.3" cy="415.3" r="1.85"/><circle cx="578.8" cy="408" r="1.85"/><circle cx="586.4" cy="411.6" r="1.85"/><circle cx="593.9" cy="410.9" r="1.85"/><circle cx="601.4" cy="403.9" r="1.85"/><circle cx="608.9" cy="422.6" r="1.85"/><circle cx="616.5" cy="413.1" r="1.85"/><circle cx="624" cy="418" r="1.85"/><circle cx="631.5" cy="415" r="1.85"/><circle cx="639.1" cy="389.1" r="1.85"/><circle cx="646.6" cy="412.1" r="1.85"/><circle cx="654.1" cy="410.1" r="1.85"/><circle cx="661.6" cy="407.3" r="1.85"/><circle cx="669.2" cy="419.7" r="1.85"/><circle cx="676.7" cy="424.5" r="1.85"/><circle cx="684.2" cy="426.3" r="1.85"/><circle cx="691.7" cy="426.5" r="1.85"/><circle cx="699.3" cy="426.5" r="1.85"/><circle cx="706.8" cy="426.5" r="1.85"/><circle cx="714.3" cy="426.5" r="1.85"/><circle cx="721.8" cy="426.5" r="1.85"/><circle cx="729.4" cy="426.5" r="1.85"/><circle cx="736.9" cy="426" r="1.85"/><circle cx="744.4" cy="402" r="1.85"/><circle cx="751.9" cy="412.1" r="1.85"/><circle cx="759.5" cy="412.3" r="1.85"/><circle cx="767" cy="415.3" r="1.85"/><circle cx="774.5" cy="418.5" r="1.85"/></g>
<g fill="#ff3670"><circle cx="330.5" cy="424.6" r="1.85"/><circle cx="338" cy="421.7" r="1.85"/><circle cx="345.5" cy="423.4" r="1.85"/><circle cx="353.1" cy="421.7" r="1.85"/><circle cx="360.6" cy="420.5" r="1.85"/><circle cx="368.1" cy="420.5" r="1.85"/><circle cx="375.6" cy="418.1" r="1.85"/><circle cx="383.2" cy="418.4" r="1.85"/><circle cx="390.7" cy="419.3" r="1.85"/><circle cx="398.2" cy="413.5" r="1.85"/><circle cx="405.7" cy="403.1" r="1.85"/><circle cx="413.3" cy="415.3" r="1.85"/><circle cx="420.8" cy="412.8" r="1.85"/><circle cx="428.3" cy="411.2" r="1.85"/><circle cx="435.9" cy="396" r="1.85"/><circle cx="443.4" cy="387.5" r="1.85"/><circle cx="450.9" cy="417" r="1.85"/><circle cx="458.4" cy="405.8" r="1.85"/><circle cx="466" cy="412" r="1.85"/><circle cx="473.5" cy="389.7" r="1.85"/><circle cx="481" cy="381.2" r="1.85"/><circle cx="488.5" cy="408" r="1.85"/><circle cx="496.1" cy="406.5" r="1.85"/><circle cx="503.6" cy="405.3" r="1.85"/><circle cx="511.1" cy="416.7" r="1.85"/><circle cx="518.6" cy="417" r="1.85"/><circle cx="526.2" cy="415.5" r="1.85"/><circle cx="533.7" cy="419.6" r="1.85"/><circle cx="541.2" cy="417" r="1.85"/><circle cx="548.7" cy="413.5" r="1.85"/><circle cx="556.3" cy="416.4" r="1.85"/><circle cx="563.8" cy="417.9" r="1.85"/><circle cx="571.3" cy="418.9" r="1.85"/><circle cx="578.8" cy="414.5" r="1.85"/><circle cx="586.4" cy="415.5" r="1.85"/><circle cx="593.9" cy="409.1" r="1.85"/><circle cx="601.4" cy="417.4" r="1.85"/><circle cx="608.9" cy="418.9" r="1.85"/><circle cx="616.5" cy="417.6" r="1.85"/><circle cx="624" cy="417.6" r="1.85"/><circle cx="631.5" cy="414" r="1.85"/><circle cx="639.1" cy="365.3" r="1.85"/><circle cx="646.6" cy="416.8" r="1.85"/><circle cx="654.1" cy="416.3" r="1.85"/><circle cx="661.6" cy="412.1" r="1.85"/><circle cx="669.2" cy="417.8" r="1.85"/><circle cx="676.7" cy="399.6" r="1.85"/><circle cx="684.2" cy="410.4" r="1.85"/><circle cx="691.7" cy="406.7" r="1.85"/><circle cx="699.3" cy="414.9" r="1.85"/><circle cx="706.8" cy="416.8" r="1.85"/><circle cx="714.3" cy="417.3" r="1.85"/><circle cx="721.8" cy="415.8" r="1.85"/><circle cx="729.4" cy="421.5" r="1.85"/><circle cx="736.9" cy="421.5" r="1.85"/><circle cx="744.4" cy="412.9" r="1.85"/><circle cx="751.9" cy="398.6" r="1.85"/><circle cx="759.5" cy="415" r="1.85"/><circle cx="767" cy="415.8" r="1.85"/><circle cx="774.5" cy="415" r="1.85"/></g>
<g fill="#2fae14"><circle cx="44.5" cy="427" r="1.85"/><circle cx="52" cy="427" r="1.85"/><circle cx="59.6" cy="427" r="1.85"/><circle cx="67.1" cy="427" r="1.85"/><circle cx="74.6" cy="427" r="1.85"/><circle cx="82.1" cy="427" r="1.85"/><circle cx="89.7" cy="427" r="1.85"/><circle cx="97.2" cy="427" r="1.85"/><circle cx="104.7" cy="427" r="1.85"/><circle cx="112.2" cy="427" r="1.85"/><circle cx="119.8" cy="427" r="1.85"/><circle cx="127.3" cy="427" r="1.85"/><circle cx="134.8" cy="427" r="1.85"/><circle cx="142.3" cy="427" r="1.85"/><circle cx="149.9" cy="427" r="1.85"/><circle cx="157.4" cy="427" r="1.85"/><circle cx="164.9" cy="427" r="1.85"/><circle cx="172.4" cy="427" r="1.85"/><circle cx="180" cy="427" r="1.85"/><circle cx="187.5" cy="427" r="1.85"/><circle cx="195" cy="427" r="1.85"/><circle cx="202.5" cy="425.5" r="1.85"/><circle cx="210.1" cy="425.6" r="1.85"/><circle cx="217.6" cy="426" r="1.85"/><circle cx="225.1" cy="426" r="1.85"/><circle cx="232.7" cy="424.4" r="1.85"/><circle cx="240.2" cy="426.6" r="1.85"/><circle cx="247.7" cy="426.5" r="1.85"/><circle cx="255.2" cy="426.6" r="1.85"/><circle cx="262.8" cy="425.3" r="1.85"/><circle cx="270.3" cy="416.4" r="1.85"/><circle cx="277.8" cy="422.5" r="1.85"/><circle cx="285.3" cy="425.4" r="1.85"/><circle cx="292.9" cy="425.8" r="1.85"/><circle cx="300.4" cy="425.2" r="1.85"/><circle cx="307.9" cy="421.3" r="1.85"/><circle cx="315.4" cy="402.2" r="1.85"/><circle cx="323" cy="400.5" r="1.85"/><circle cx="330.5" cy="406.9" r="1.85"/><circle cx="338" cy="421.7" r="1.85"/><circle cx="345.5" cy="423.4" r="1.85"/><circle cx="353.1" cy="423" r="1.85"/><circle cx="360.6" cy="421.7" r="1.85"/><circle cx="368.1" cy="420.9" r="1.85"/><circle cx="375.6" cy="420.5" r="1.85"/><circle cx="383.2" cy="420.9" r="1.85"/><circle cx="390.7" cy="421.7" r="1.85"/><circle cx="398.2" cy="420.9" r="1.85"/><circle cx="405.7" cy="417.4" r="1.85"/><circle cx="413.3" cy="418.9" r="1.85"/><circle cx="420.8" cy="419.6" r="1.85"/><circle cx="428.3" cy="416.7" r="1.85"/><circle cx="435.9" cy="409.1" r="1.85"/><circle cx="443.4" cy="410.1" r="1.85"/><circle cx="450.9" cy="411.6" r="1.85"/><circle cx="458.4" cy="414.5" r="1.85"/><circle cx="466" cy="418.2" r="1.85"/><circle cx="473.5" cy="413.8" r="1.85"/><circle cx="481" cy="418.9" r="1.85"/><circle cx="488.5" cy="419.6" r="1.85"/><circle cx="496.1" cy="418.2" r="1.85"/><circle cx="503.6" cy="421.1" r="1.85"/><circle cx="511.1" cy="419.6" r="1.85"/><circle cx="518.6" cy="418.5" r="1.85"/><circle cx="526.2" cy="417.5" r="1.85"/><circle cx="533.7" cy="420.4" r="1.85"/><circle cx="541.2" cy="421.8" r="1.85"/><circle cx="548.7" cy="420.4" r="1.85"/><circle cx="556.3" cy="419.6" r="1.85"/><circle cx="563.8" cy="420.4" r="1.85"/><circle cx="571.3" cy="410.1" r="1.85"/><circle cx="578.8" cy="398.5" r="1.85"/><circle cx="586.4" cy="399.2" r="1.85"/><circle cx="593.9" cy="412.3" r="1.85"/><circle cx="601.4" cy="393.1" r="1.85"/><circle cx="608.9" cy="408.7" r="1.85"/><circle cx="616.5" cy="420.5" r="1.85"/><circle cx="624" cy="421" r="1.85"/><circle cx="631.5" cy="421.3" r="1.85"/><circle cx="639.1" cy="421" r="1.85"/><circle cx="646.6" cy="421.2" r="1.85"/><circle cx="654.1" cy="421" r="1.85"/><circle cx="661.6" cy="420.5" r="1.85"/><circle cx="669.2" cy="421" r="1.85"/><circle cx="676.7" cy="418" r="1.85"/><circle cx="684.2" cy="420.8" r="1.85"/><circle cx="691.7" cy="417" r="1.85"/><circle cx="699.3" cy="421.2" r="1.85"/><circle cx="706.8" cy="413.6" r="1.85"/><circle cx="714.3" cy="415.2" r="1.85"/><circle cx="721.8" cy="409.7" r="1.85"/><circle cx="729.4" cy="399.2" r="1.85"/><circle cx="736.9" cy="415.3" r="1.85"/></g>
<g fill="#d7282d"><circle cx="330.5" cy="424.6" r="1.85"/><circle cx="338" cy="424.6" r="1.85"/><circle cx="345.5" cy="424.6" r="1.85"/><circle cx="353.1" cy="424.6" r="1.85"/><circle cx="360.6" cy="424.6" r="1.85"/><circle cx="368.1" cy="424.6" r="1.85"/><circle cx="375.6" cy="424.6" r="1.85"/><circle cx="383.2" cy="424.6" r="1.85"/><circle cx="390.7" cy="424.6" r="1.85"/><circle cx="398.2" cy="424.6" r="1.85"/><circle cx="405.7" cy="423.5" r="1.85"/><circle cx="413.3" cy="424.6" r="1.85"/><circle cx="420.8" cy="424.6" r="1.85"/><circle cx="428.3" cy="424.6" r="1.85"/><circle cx="435.9" cy="424.6" r="1.85"/><circle cx="443.4" cy="424.6" r="1.85"/><circle cx="450.9" cy="424.6" r="1.85"/><circle cx="458.4" cy="422" r="1.85"/><circle cx="466" cy="424.6" r="1.85"/><circle cx="473.5" cy="424.6" r="1.85"/><circle cx="481" cy="424.6" r="1.85"/><circle cx="488.5" cy="424.6" r="1.85"/><circle cx="496.1" cy="419.5" r="1.85"/><circle cx="503.6" cy="424.6" r="1.85"/><circle cx="511.1" cy="424.6" r="1.85"/><circle cx="518.6" cy="424.6" r="1.85"/><circle cx="526.2" cy="424.6" r="1.85"/><circle cx="533.7" cy="426" r="1.85"/><circle cx="541.2" cy="426" r="1.85"/><circle cx="548.7" cy="426" r="1.85"/><circle cx="556.3" cy="426" r="1.85"/><circle cx="563.8" cy="426" r="1.85"/><circle cx="571.3" cy="426" r="1.85"/><circle cx="578.8" cy="426" r="1.85"/><circle cx="586.4" cy="426" r="1.85"/><circle cx="593.9" cy="426" r="1.85"/><circle cx="601.4" cy="426" r="1.85"/><circle cx="608.9" cy="426" r="1.85"/><circle cx="616.5" cy="426" r="1.85"/><circle cx="624" cy="426" r="1.85"/><circle cx="631.5" cy="426" r="1.85"/><circle cx="639.1" cy="426" r="1.85"/><circle cx="646.6" cy="426" r="1.85"/><circle cx="654.1" cy="426" r="1.85"/><circle cx="661.6" cy="426" r="1.85"/><circle cx="669.2" cy="426" r="1.85"/><circle cx="676.7" cy="426" r="1.85"/><circle cx="684.2" cy="426" r="1.85"/><circle cx="691.7" cy="426" r="1.85"/><circle cx="699.3" cy="426" r="1.85"/><circle cx="706.8" cy="426" r="1.85"/><circle cx="714.3" cy="426" r="1.85"/><circle cx="721.8" cy="426" r="1.85"/><circle cx="729.4" cy="426" r="1.85"/><circle cx="736.9" cy="426" r="1.85"/><circle cx="744.4" cy="425.3" r="1.85"/><circle cx="751.9" cy="425.3" r="1.85"/><circle cx="759.5" cy="425.3" r="1.85"/><circle cx="767" cy="425.3" r="1.85"/><circle cx="774.5" cy="425.3" r="1.85"/></g>
<g fill="#0a648c"><circle cx="330.5" cy="425.8" r="1.85"/><circle cx="338" cy="425.8" r="1.85"/><circle cx="345.5" cy="425.8" r="1.85"/><circle cx="353.1" cy="425.8" r="1.85"/><circle cx="360.6" cy="425.8" r="1.85"/><circle cx="368.1" cy="425.8" r="1.85"/><circle cx="375.6" cy="425.8" r="1.85"/><circle cx="383.2" cy="425.8" r="1.85"/><circle cx="390.7" cy="425.8" r="1.85"/><circle cx="398.2" cy="425.8" r="1.85"/><circle cx="405.7" cy="425.8" r="1.85"/><circle cx="413.3" cy="425.8" r="1.85"/><circle cx="420.8" cy="425.8" r="1.85"/><circle cx="428.3" cy="425.8" r="1.85"/><circle cx="435.9" cy="425.8" r="1.85"/><circle cx="443.4" cy="425.8" r="1.85"/><circle cx="450.9" cy="425.8" r="1.85"/><circle cx="458.4" cy="425.8" r="1.85"/><circle cx="466" cy="425.8" r="1.85"/><circle cx="473.5" cy="423.3" r="1.85"/><circle cx="481" cy="422.5" r="1.85"/><circle cx="488.5" cy="424.8" r="1.85"/><circle cx="496.1" cy="424.8" r="1.85"/><circle cx="503.6" cy="424.8" r="1.85"/><circle cx="511.1" cy="424.8" r="1.85"/><circle cx="518.6" cy="424.8" r="1.85"/><circle cx="526.2" cy="424.8" r="1.85"/><circle cx="533.7" cy="424.8" r="1.85"/><circle cx="541.2" cy="424.8" r="1.85"/><circle cx="548.7" cy="424.8" r="1.85"/><circle cx="556.3" cy="424.8" r="1.85"/><circle cx="563.8" cy="424.8" r="1.85"/><circle cx="571.3" cy="424.8" r="1.85"/><circle cx="578.8" cy="424.8" r="1.85"/><circle cx="586.4" cy="424.8" r="1.85"/><circle cx="593.9" cy="424.8" r="1.85"/><circle cx="601.4" cy="424.8" r="1.85"/><circle cx="608.9" cy="424.8" r="1.85"/><circle cx="616.5" cy="424.8" r="1.85"/><circle cx="624" cy="424.8" r="1.85"/><circle cx="631.5" cy="424.8" r="1.85"/><circle cx="639.1" cy="424.8" r="1.85"/><circle cx="646.6" cy="425.3" r="1.85"/><circle cx="654.1" cy="425.3" r="1.85"/><circle cx="661.6" cy="425.3" r="1.85"/><circle cx="669.2" cy="425.3" r="1.85"/><circle cx="676.7" cy="425.3" r="1.85"/><circle cx="684.2" cy="425.3" r="1.85"/><circle cx="691.7" cy="425.3" r="1.85"/><circle cx="699.3" cy="425.3" r="1.85"/><circle cx="706.8" cy="425.3" r="1.85"/><circle cx="714.3" cy="425.3" r="1.85"/><circle cx="721.8" cy="425.3" r="1.85"/><circle cx="729.4" cy="425.3" r="1.85"/><circle cx="736.9" cy="425.3" r="1.85"/><circle cx="744.4" cy="427" r="1.85"/><circle cx="751.9" cy="427" r="1.85"/><circle cx="759.5" cy="427" r="1.85"/><circle cx="767" cy="427" r="1.85"/><circle cx="774.5" cy="427" r="1.85"/></g>
<g fill="#a842a0"><circle cx="330.5" cy="427" r="1.85"/><circle cx="338" cy="427" r="1.85"/><circle cx="345.5" cy="427" r="1.85"/><circle cx="353.1" cy="427" r="1.85"/><circle cx="360.6" cy="427" r="1.85"/><circle cx="368.1" cy="427" r="1.85"/><circle cx="375.6" cy="427" r="1.85"/><circle cx="383.2" cy="427" r="1.85"/><circle cx="390.7" cy="427" r="1.85"/><circle cx="398.2" cy="427" r="1.85"/><circle cx="405.7" cy="427" r="1.85"/><circle cx="413.3" cy="427" r="1.85"/><circle cx="420.8" cy="427" r="1.85"/><circle cx="428.3" cy="427" r="1.85"/><circle cx="435.9" cy="427" r="1.85"/><circle cx="443.4" cy="427" r="1.85"/><circle cx="450.9" cy="427" r="1.85"/><circle cx="458.4" cy="427" r="1.85"/><circle cx="466" cy="427" r="1.85"/><circle cx="473.5" cy="427" r="1.85"/><circle cx="481" cy="427" r="1.85"/><circle cx="488.5" cy="427" r="1.85"/><circle cx="496.1" cy="427" r="1.85"/><circle cx="503.6" cy="427" r="1.85"/><circle cx="511.1" cy="427" r="1.85"/><circle cx="518.6" cy="427" r="1.85"/><circle cx="526.2" cy="427" r="1.85"/><circle cx="533.7" cy="427" r="1.85"/><circle cx="541.2" cy="427" r="1.85"/><circle cx="548.7" cy="427" r="1.85"/><circle cx="556.3" cy="427" r="1.85"/><circle cx="563.8" cy="427" r="1.85"/><circle cx="571.3" cy="427" r="1.85"/><circle cx="578.8" cy="427" r="1.85"/><circle cx="586.4" cy="427" r="1.85"/><circle cx="593.9" cy="427" r="1.85"/><circle cx="601.4" cy="427" r="1.85"/><circle cx="608.9" cy="427" r="1.85"/><circle cx="616.5" cy="427" r="1.85"/><circle cx="624" cy="427" r="1.85"/><circle cx="631.5" cy="427" r="1.85"/><circle cx="639.1" cy="427" r="1.85"/><circle cx="646.6" cy="427" r="1.85"/><circle cx="654.1" cy="427" r="1.85"/><circle cx="661.6" cy="427" r="1.85"/><circle cx="669.2" cy="427" r="1.85"/><circle cx="676.7" cy="427" r="1.85"/><circle cx="684.2" cy="427" r="1.85"/><circle cx="691.7" cy="427" r="1.85"/><circle cx="699.3" cy="427" r="1.85"/><circle cx="706.8" cy="427" r="1.85"/><circle cx="714.3" cy="427" r="1.85"/><circle cx="721.8" cy="427" r="1.85"/><circle cx="729.4" cy="427" r="1.85"/><circle cx="736.9" cy="427" r="1.85"/><circle cx="744.4" cy="427" r="1.85"/><circle cx="751.9" cy="427" r="1.85"/><circle cx="759.5" cy="427" r="1.85"/><circle cx="767" cy="427" r="1.85"/><circle cx="774.5" cy="427" r="1.85"/></g>
<g fill="#10a296"><circle cx="631.5" cy="427" r="1.85"/><circle cx="639.1" cy="427" r="1.85"/><circle cx="646.6" cy="427" r="1.85"/><circle cx="654.1" cy="427" r="1.85"/><circle cx="661.6" cy="427" r="1.85"/><circle cx="669.2" cy="427" r="1.85"/><circle cx="676.7" cy="427" r="1.85"/><circle cx="684.2" cy="427" r="1.85"/><circle cx="691.7" cy="427" r="1.85"/><circle cx="699.3" cy="427" r="1.85"/><circle cx="706.8" cy="427" r="1.85"/><circle cx="714.3" cy="427" r="1.85"/><circle cx="721.8" cy="427" r="1.85"/><circle cx="729.4" cy="427" r="1.85"/><circle cx="736.9" cy="427" r="1.85"/></g></g>
</g>
<g class="legend"><rect x="785.4" y="33.2" width="10.6" height="10.6" fill="#0764d2"/><text x="800.7" y="41.8">Pure spam</text><rect x="785.4" y="50.2" width="10.6" height="10.6" fill="#ff2200"/><text x="800.7" y="58.8">Legacy</text><rect x="785.4" y="67.3" width="10.6" height="10.6" fill="#ff9912"/><text x="800.7" y="75.9">Hacked site</text><rect x="785.4" y="84.3" width="10.6" height="10.6" fill="#0a981a"/><text x="800.7" y="92.9">Unnatural links from your site</text><rect x="785.4" y="101.1" width="10.6" height="10.6" fill="#a02094"/><text x="800.7" y="109.7">Automatically generated content</text><text x="800.7" y="124.1">and infinite spaces</text><rect x="785.4" y="132.4" width="10.6" height="10.6" fill="#00a0c8"/><text x="800.7" y="141">Cloaking and/or sneaky redirects</text><rect x="785.4" y="149.2" width="10.6" height="10.6" fill="#ff3670"/><text x="800.7" y="157.8">Thin content with little or no added</text><text x="800.7" y="172.2">value</text><rect x="785.4" y="180.4" width="10.6" height="10.6" fill="#2fae14"/><text x="800.7" y="189">Unnatural links to your site</text><rect x="785.4" y="197.2" width="10.6" height="10.6" fill="#d7282d"/><text x="800.7" y="205.8">Parked domains</text><rect x="785.4" y="214" width="10.6" height="10.6" fill="#0a648c"/><text x="800.7" y="222.6">User-generated spam</text><rect x="785.4" y="231.1" width="10.6" height="10.6" fill="#a842a0"/><text x="800.7" y="239.7">Hidden text and/or keyword</text><text x="800.7" y="254.1">stuffing</text><rect x="785.4" y="262.2" width="10.6" height="10.6" fill="#10a296"/><text x="800.7" y="270.8">Spammy free hosts and dynamic</text><text x="800.7" y="285.2">DNS providers</text></g>
</svg>
</body>
</html>
